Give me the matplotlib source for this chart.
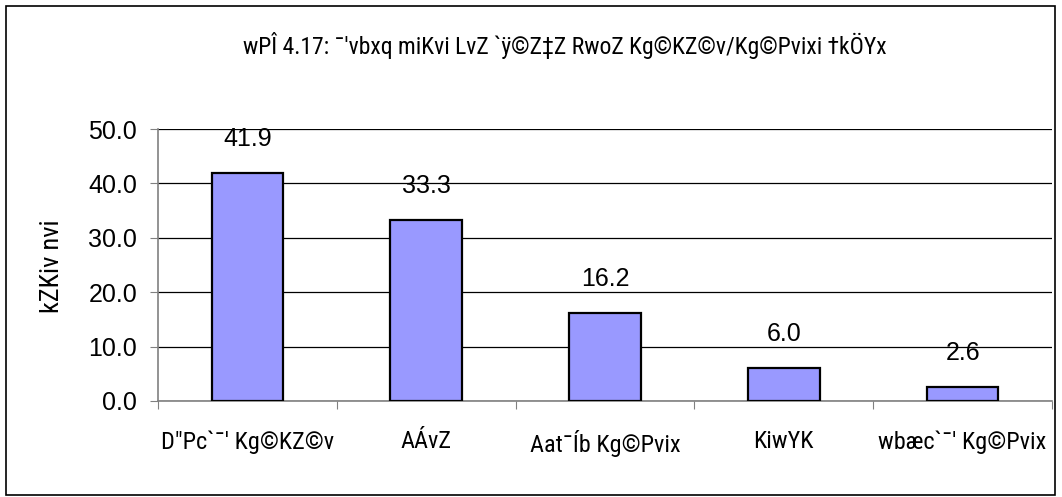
import numpy as np
import matplotlib.pyplot as plt
from matplotlib import font_manager
from matplotlib.patches import Rectangle

# text kept exactly as shown (legacy Bengali encoding rendered in Latin glyphs)
title = "wPÎ 4.17: ¯'vbxq miKvi LvZ `ÿ©Z‡Z RwoZ Kg©KZ©v/Kg©Pvixi †kÖYx"
ylabel = "kZKiv nvi"
categories = ["D\"Pc`¯' Kg©KZ©v", "AÁvZ", "Aat¯Íb Kg©Pvix", "KiwYK", "wbæc`¯' Kg©Pvix"]
values = [41.9, 33.3, 16.2, 6.0, 2.6]
yticks = [0, 10, 20, 30, 40, 50]

# narrow face for the lettered text, if one is installed
installed = {f.name for f in font_manager.fontManager.ttflist}
narrow = [n for n in ['Liberation Sans Narrow', 'Arial Narrow', 'Roboto Condensed',
                      'Archivo Narrow', 'Barlow Condensed'] if n in installed]
narrow_fam = narrow[:1] + ['DejaVu Sans']

plt.rcParams['font.family'] = ['Liberation Sans', 'DejaVu Sans']

fig = plt.figure(figsize=(10.62, 4.97), dpi=100)
ax = fig.add_axes([0.1488, 0.1932, 0.8418, 0.5472])

x = np.arange(len(categories))
ax.bar(x, values, width=0.4, color='#9999ff', edgecolor='black', linewidth=1.6, zorder=3)

for xi, v in zip(x, values):
    ax.text(xi, v + 6.3, f"{v:.1f}", ha='center', va='center', fontsize=18)

ax.set_xlim(-0.5, len(categories) - 0.5)
ax.set_ylim(0, 50)
ax.set_yticks(yticks)
ax.set_yticklabels([f"{t:.1f}" for t in yticks], fontsize=18)
ax.yaxis.grid(True, color='black', linewidth=0.9, zorder=0)

ax.set_xticks(np.arange(-0.5, len(categories)), labels=[])
ax.set_xticks(x, labels=categories, minor=True, fontsize=17.5, family=narrow_fam)
ax.tick_params(axis='x', which='minor', length=0, pad=21)
ax.tick_params(axis='x', which='major', length=6, color='#808080', direction='out')
ax.tick_params(axis='y', length=6, color='#808080', direction='out', pad=9)

for s in ['top', 'right']:
    ax.spines[s].set_visible(False)
for s in ['left', 'bottom']:
    ax.spines[s].set_color('#808080')
    ax.spines[s].set_linewidth(1.2)

fig.text(52 / 1062, 0.465, ylabel, rotation=90, ha='center', va='center',
         fontsize=19, family=narrow_fam)
fig.text(0.532, 0.909, title, ha='center', va='center', fontsize=17, family=narrow_fam)

fig.patches.append(Rectangle((6 / 1062, 2 / 497), 1049 / 1062, 489 / 497,
                             transform=fig.transFigure, fill=False,
                             edgecolor='black', linewidth=1.2))

fig.savefig('out.png', dpi=100)
